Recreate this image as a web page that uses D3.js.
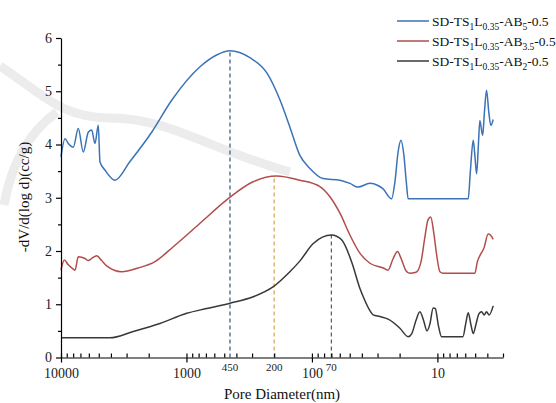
<!DOCTYPE html>
<html><head><meta charset="utf-8">
<script src="https://cdn.jsdelivr.net/npm/d3@7"></script>
<style>body{margin:0;background:#fff}svg{display:block}</style>
</head><body>
<svg id="c" width="556" height="403"></svg>
<script>
// ---- data (pore diameter in nm, dV/dlogD in cc/g) ----
const blueD = [10000,9291,8746,7980,7281,6643,6061,5693,5359,5045,4890,4461,3713,2820,1894,1312,780,575,450,312,228,180,150,125,103.7,81.7,59.8,49.8,43.0,34.5,29.8,27.2,23.2,21.8,20.6,19.5,18.5,17.7,17.1,5.68,5.46,5.18,5.03,4.87,4.71,4.59,4.36,4.22,4.06,3.89,3.75,3.59];
const blueV = [3.77,4.11,4.02,3.95,4.30,3.86,4.23,4.27,4.02,4.36,3.67,3.52,3.33,3.68,4.23,4.83,5.46,5.68,5.76,5.63,5.34,4.84,4.33,3.80,3.55,3.36,3.33,3.27,3.20,3.27,3.23,3.17,2.98,3.30,3.85,4.08,3.80,3.30,2.98,2.98,3.50,4.08,3.80,3.45,4.00,4.45,4.17,4.60,5.02,4.60,4.36,4.47];
const redD = [10000,9413,8746,7980,7735,7281,6437,6061,5693,5193,4740,4324,3283,2422,1782,1274,780,478,295,191,125,86.4,71.9,59.8,49.8,41.5,34.5,27.0,24.8,22.6,20.8,19.4,17.8,16.6,14.8,13.5,12.6,11.9,11.3,10.7,10.1,9.55,8.99,5.03,4.80,4.50,4.26,3.94,3.78,3.59];
const redV = [1.64,1.83,1.74,1.66,1.64,1.89,1.86,1.82,1.86,1.91,1.82,1.72,1.61,1.68,1.80,2.08,2.52,2.96,3.30,3.41,3.33,3.21,3.02,2.71,2.30,1.96,1.77,1.68,1.64,1.85,1.99,1.85,1.63,1.58,1.60,1.80,2.25,2.58,2.64,2.35,1.90,1.61,1.58,1.58,1.80,1.95,2.05,2.32,2.30,2.22];
const blackD = [10000,4070,2654,1627,996,690,450,294,203,150,125,97.6,69.7,58.0,48.0,41.5,39.0,34.5,32.5,28.7,24.7,19.9,17.1,16.0,14.8,13.8,12.9,12.1,11.5,10.8,10.4,9.82,9.26,6.26,5.93,5.68,5.41,5.18,4.93,4.67,4.44,4.24,4.06,3.87,3.59];
const blackV = [0.37,0.37,0.49,0.64,0.83,0.92,1.02,1.14,1.33,1.61,1.81,2.14,2.30,2.21,1.78,1.30,1.14,0.88,0.80,0.77,0.72,0.55,0.39,0.45,0.70,0.86,0.70,0.50,0.62,0.93,0.92,0.60,0.39,0.39,0.65,0.84,0.62,0.45,0.62,0.82,0.86,0.80,0.86,0.80,0.97];
const seriesNames = ["SD-TS1L0.35-AB5-0.5","SD-TS1L0.35-AB3.5-0.5","SD-TS1L0.35-AB2-0.5"];
const seriesColors = ["#3b73b6","#b24d4b","#383838"];
const majorTicks = [10000,1000,100,10];
const markD = [450,200,70];
const markPeak = [5.76,3.41,2.30];
const markColors = ["#2e5282","#d6a24a","#5a5a5a"];
const yTicks = [0,1,2,3,4,5,6];

const svg = d3.select("#c");
const serif = "'Liberation Serif','Times New Roman',serif";

// ---- faint background swoosh (watermark shapes only) ----
svg.append("path").attr("d","M0,66 C40,92 60,118 110,118 C170,118 210,150 290,172")
  .attr("fill","none").attr("stroke","#ececec").attr("stroke-width",9);
svg.append("path").attr("d","M57,112 C32,130 12,160 4,205")
  .attr("fill","none").attr("stroke","#ececec").attr("stroke-width",9);

// ---- scales ----
const x = d3.scaleLog().domain([10000,3]).range([61,503]);
const y = d3.scaleLinear().domain([0,6]).range([357.5,38]);

// ---- dashed markers ----
markD.forEach((d,i)=>{
  svg.append("line").attr("x1",x(d)).attr("x2",x(d)).attr("y1",y(0)).attr("y2",y(markPeak[i]))
    .attr("stroke",markColors[i]).attr("stroke-width",1.2).attr("stroke-dasharray","4,3");
});

// ---- lines ----
const line = d3.line().x(d=>x(d[0])).y(d=>y(d[1])).curve(d3.curveMonotoneX);
const series = [[blueD,blueV],[redD,redV],[blackD,blackV]];
series.forEach((s,i)=>{
  const pts = s[0].map((d,j)=>[d,s[1][j]]);
  svg.append("path").datum(pts).attr("d",line).attr("fill","none")
    .attr("stroke",seriesColors[i]).attr("stroke-width",1.5);
});

// ---- axes ----
const minor = [];
[1000,100,10,1].forEach(b=>{for(let k=2;k<=9;k++){const v=b*k; if(v>=3 && v<10000) minor.push(v);} });
const gx = svg.append("g").attr("transform",`translate(0,${y(0)})`);
gx.call(d3.axisBottom(x).tickValues(majorTicks).tickSizeInner(5).tickSizeOuter(0).tickPadding(6).tickFormat(d3.format("d")));
const gx2 = svg.append("g").attr("transform",`translate(0,${y(0)})`);
gx2.call(d3.axisBottom(x).tickValues(majorTicks.concat(minor)).tickSizeInner(-4).tickSizeOuter(0).tickFormat(""));
gx2.select(".domain").remove();
[gx,gx2].forEach(g=>{g.selectAll("path,line").attr("stroke","#000").attr("stroke-width",1.2);});
gx.selectAll("text").attr("font-family",serif).attr("font-size",14).attr("fill","#222");
markD.forEach(d=>{
  svg.append("text").attr("x",x(d)).attr("y",371).attr("text-anchor","middle")
    .attr("font-family",serif).attr("font-size",11).attr("fill","#222").text(d);
});

const gy = svg.append("g").attr("transform",`translate(${x(10000)},0)`);
gy.call(d3.axisLeft(y).tickValues(yTicks).tickSizeInner(5).tickSizeOuter(0).tickPadding(4).tickFormat(d3.format("d")));
const gy2 = svg.append("g").attr("transform",`translate(${x(10000)},0)`);
gy2.call(d3.axisLeft(y).tickValues([0.5,1.5,2.5,3.5,4.5,5.5]).tickSizeInner(3).tickSizeOuter(0).tickFormat(""));
gy2.select(".domain").remove();
[gy,gy2].forEach(g=>{g.selectAll("path,line").attr("stroke","#000").attr("stroke-width",1.2);});
gy.selectAll("text").attr("font-family",serif).attr("font-size",14).attr("fill","#222");

// ---- titles ----
svg.append("text").attr("x",282).attr("y",399).attr("text-anchor","middle")
  .attr("font-family",serif).attr("font-size",15).attr("fill","#111").text("Pore Diameter(nm)");
svg.append("text").attr("transform","translate(29,197) rotate(-90)").attr("text-anchor","middle")
  .attr("font-family",serif).attr("font-size",15).attr("fill","#111").text("-dV/d(log d)(cc/g)");

// ---- legend ----
function legendText(t, name){
  const m = name.match(/^SD-TS(\d)L([\d.]+)-AB([\d.]+)-(.*)$/);
  const parts = [["SD-TS",0],[m[1],1],["L",0],[m[2],1],["-AB",0],[m[3],1],["-"+m[4],0]];
  parts.forEach((p,j)=>{
    const prevSub = j>0 ? parts[j-1][1] : 0;
    t.append("tspan").attr("font-size",p[1]?9.5:13.5)
      .attr("dy", p[1] && !prevSub ? 4 : (!p[1] && prevSub ? -4 : 0))
      .text(p[0]);
  });
}
seriesNames.forEach((n,i)=>{
  const ly = 21 + i*20;
  svg.append("line").attr("x1",397).attr("x2",429).attr("y1",ly).attr("y2",ly)
    .attr("stroke",seriesColors[i]).attr("stroke-width",1.5);
  const t = svg.append("text").attr("x",432).attr("y",ly+4.5).attr("font-family",serif).attr("fill","#111");
  legendText(t,n);
});
</script>
</body></html>
